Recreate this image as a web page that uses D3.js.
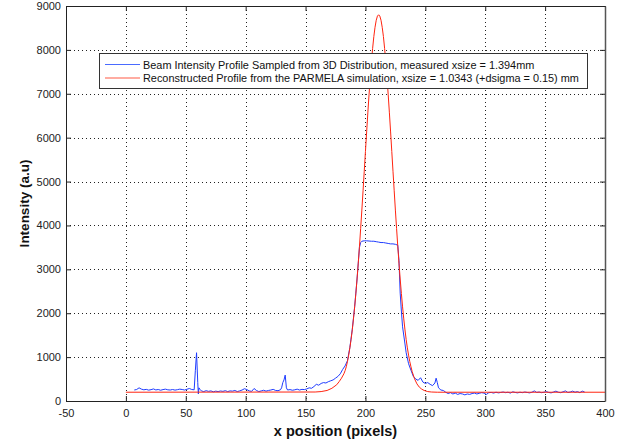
<!DOCTYPE html>
<html>
<head>
<meta charset="utf-8">
<script src="https://cdn.jsdelivr.net/npm/d3@7"></script>
<style>
  html, body { margin: 0; padding: 0; background: #fff; }
  svg { display: block; }
</style>
</head>
<body>
<script>
const width = 630;
const height = 445;
const margin = { top: 6, right: 25, bottom: 44, left: 66 };

const xTicks = [-50, 0, 50, 100, 150, 200, 250, 300, 350, 400];
const yTicks = [0, 1000, 2000, 3000, 4000, 5000, 6000, 7000, 8000, 9000];

const legendLabels = [
  "Beam Intensity Profile Sampled from 3D Distribution, measured xsize = 1.394mm",
  "Reconstructed Profile from the PARMELA simulation, xsize = 1.0343 (+dsigma = 0.15) mm",
];

// measured profile (blue)
const blueX = [7, 9, 11, 13, 15, 17, 19, 21, 23, 25, 27, 29, 31, 33, 35, 37, 39, 41, 43, 45,
  47, 49, 51, 53, 55, 57, 58, 59, 60, 60.5, 61, 62, 63, 65, 67, 69, 71, 73, 75, 77,
  79, 81, 83, 85, 87, 89, 91, 93, 95, 97, 99, 101, 103, 105, 107, 109, 111, 113, 115, 117,
  119, 121, 123, 125, 127, 129, 130, 131, 132, 133, 134, 135, 137, 139, 141, 143, 145, 147, 149, 151,
  153, 155, 157, 159, 161, 163, 165, 167, 169, 171, 173, 175, 177, 179, 181, 183, 185, 187, 189, 191,
  193, 195, 196, 197, 199, 201, 203, 205, 207, 209, 211, 213, 215, 217, 219, 221, 223, 225, 227, 228,
  229, 230, 231, 233, 234, 236, 238, 240, 242, 244, 246, 248, 250, 252, 254, 256, 258, 259, 260, 261,
  263, 265, 267, 269, 271, 273, 275, 277, 279, 281, 283, 285, 287, 289, 291, 293, 295, 297, 299, 301,
  303, 305, 307, 309, 311, 313, 315, 317, 319, 321, 323, 325, 327, 329, 331, 333, 335, 337, 339, 341,
  343, 345, 347, 349, 351, 353, 355, 357, 359, 361, 363, 365, 367, 369, 371, 373, 375, 377, 379, 381, 383];
const blueY = [250, 262, 300, 270, 255, 265, 248, 258, 275, 252, 262, 245, 260, 270, 255, 250, 262, 248, 258, 270,
  262, 250, 268, 285, 262, 255, 700, 1100, 420, 160, 300, 260, 230, 215, 235, 220, 230, 210, 225, 215,
  228, 220, 235, 215, 230, 225, 240, 215, 230, 250, 280, 260, 230, 220, 285, 240, 215, 230, 245, 225,
  240, 250, 265, 240, 235, 255, 300, 420, 480, 590, 300, 250, 260, 245, 255, 270, 250, 265, 260, 275,
  300, 290, 330, 380, 360, 400, 420, 410, 440, 460, 480, 520, 560, 620, 720, 800, 920, 1220, 1630, 2150,
  2780, 3500, 3610, 3640, 3650, 3650, 3645, 3640, 3640, 3630, 3620, 3610, 3610, 3600, 3590, 3580, 3580, 3570, 3550, 3200,
  2460, 2050, 1690, 1300, 1100, 850, 700, 560, 500, 470, 530, 430, 400, 420, 380, 350, 410, 520, 420, 300,
  250, 240, 200, 170, 190, 160, 180, 150, 170, 160, 140, 160, 150, 170, 180, 160, 175, 190, 180, 150,
  190, 195, 180, 200, 185, 195, 205, 190, 200, 180, 210, 195, 185, 200, 190, 205, 195, 185, 200, 230,
  195, 205, 190, 200, 215, 195, 185, 205, 225, 200, 190, 210, 230, 195, 205, 225, 200, 215, 190, 225, 205];

// reconstructed profile (red)
const redX = [0, 158, 163, 168, 172, 176, 178, 180, 182, 183, 184, 185, 186, 187, 188, 189, 190, 191, 192, 193,
  194, 195, 196, 197, 198, 199, 200, 201, 202, 203, 204, 205, 206, 207, 208, 209, 210, 211, 212, 213,
  214, 215, 216, 217, 218, 219, 220, 221, 222, 223, 224, 225, 226, 227, 228, 229, 230, 231, 232, 233,
  234, 235, 236, 237, 238, 239, 241, 243, 245, 247, 249, 252, 255, 260, 400];
const redY = [200, 205, 215, 240, 290, 370, 440, 520, 620, 690, 780, 900, 1045, 1210, 1400, 1620, 1870, 2145, 2450, 2780,
  3140, 3520, 3930, 4350, 4790, 5235, 5685, 6130, 6565, 6980, 7370, 7725, 8035, 8305, 8515, 8675, 8770, 8800, 8770, 8675,
  8515, 8305, 8035, 7725, 7370, 6980, 6565, 6130, 5685, 5235, 4790, 4350, 3930, 3520, 3140, 2780, 2450, 2145, 1870, 1620,
  1400, 1210, 1045, 900, 780, 670, 505, 390, 315, 270, 240, 215, 205, 200, 200];

const svg = d3.select("body").append("svg")
  .attr("width", width)
  .attr("height", height)
  .attr("viewBox", `0 0 ${width} ${height}`)
  .style("font-family", "Arial, 'Liberation Sans', Helvetica, sans-serif");

svg.append("rect").attr("width", width).attr("height", height).attr("fill", "#fff");

const x = d3.scaleLinear().domain([-50, 400]).range([margin.left, width - margin.right]);
const y = d3.scaleLinear().domain([0, 9000]).range([height - margin.bottom, margin.top]);

const x0 = x.range()[0], x1 = x.range()[1];
const y0 = y.range()[0], y1 = y.range()[1];

// grid
const grid = svg.append("g")
  .attr("stroke", "#222")
  .attr("stroke-width", 1)
  .attr("stroke-dasharray", "1,3")
  .attr("shape-rendering", "crispEdges");

grid.selectAll("line.vx")
  .data(xTicks.slice(1, -1))
  .join("line")
  .attr("x1", (d) => Math.round(x(d)) + 0.5)
  .attr("x2", (d) => Math.round(x(d)) + 0.5)
  .attr("y1", y1)
  .attr("y2", y0);

grid.selectAll("line.hy")
  .data(yTicks.slice(1, -1))
  .join("line")
  .attr("class", "hy")
  .attr("x1", x0)
  .attr("x2", x1)
  .attr("y1", (d) => Math.round(y(d)) + 0.5)
  .attr("y2", (d) => Math.round(y(d)) + 0.5);

// lines
const line = d3.line()
  .x((d) => x(d[0]))
  .y((d) => y(d[1]));

svg.append("path")
  .datum(blueX.map((v, i) => [v, blueY[i]]))
  .attr("fill", "none")
  .attr("stroke", "#1f3cff")
  .attr("stroke-width", 1)
  .attr("d", line);

svg.append("path")
  .datum(redX.map((v, i) => [v, redY[i]]))
  .attr("fill", "none")
  .attr("stroke", "#ff2410")
  .attr("stroke-width", 1)
  .attr("d", line);

// axes (MATLAB style: inward ticks on all sides)
const tickLen = 5;
const axisColor = "#222";

svg.append("g")
  .attr("transform", `translate(0,${y0})`)
  .call(d3.axisBottom(x).tickValues(xTicks).tickSizeInner(-tickLen).tickSizeOuter(0).tickPadding(8).tickFormat((d) => String(d)))
  .call((g) => g.select(".domain").attr("stroke", axisColor))
  .call((g) => g.selectAll(".tick line").attr("stroke", axisColor))
  .call((g) => g.selectAll("text").attr("font-size", 11).attr("fill", "#222").attr("font-family", null));

svg.append("g")
  .attr("transform", `translate(${x0},0)`)
  .call(d3.axisLeft(y).tickValues(yTicks).tickSizeInner(-tickLen).tickSizeOuter(0).tickPadding(5).tickFormat((d) => String(d)))
  .call((g) => g.select(".domain").attr("stroke", axisColor))
  .call((g) => g.selectAll(".tick line").attr("stroke", axisColor))
  .call((g) => g.selectAll("text").attr("font-size", 11).attr("fill", "#222").attr("font-family", null));

svg.append("g")
  .attr("transform", `translate(0,${y1})`)
  .call(d3.axisTop(x).tickValues(xTicks).tickSizeInner(-tickLen).tickSizeOuter(0).tickFormat(""))
  .call((g) => g.select(".domain").attr("stroke", axisColor))
  .call((g) => g.selectAll(".tick line").attr("stroke", axisColor));

svg.append("g")
  .attr("transform", `translate(${x1},0)`)
  .call(d3.axisRight(y).tickValues(yTicks).tickSizeInner(-tickLen).tickSizeOuter(0).tickFormat(""))
  .call((g) => g.select(".domain").attr("stroke", "#555").attr("stroke-width", 1.5))
  .call((g) => g.selectAll(".tick line").attr("stroke", axisColor));

// axis titles
svg.append("text")
  .attr("x", (x0 + x1) / 2)
  .attr("y", 436)
  .attr("text-anchor", "middle")
  .attr("font-size", 14.5)
  .attr("font-weight", "bold")
  .attr("fill", "#111")
  .text("x position (pixels)");

svg.append("text")
  .attr("transform", `translate(29,${(y0 + y1) / 2}) rotate(-90)`)
  .attr("text-anchor", "middle")
  .attr("font-size", 13.5)
  .attr("font-weight", "bold")
  .attr("fill", "#111")
  .text("Intensity (a.u)");

// legend
const legend = svg.append("g");
legend.append("rect")
  .attr("x", 99.5)
  .attr("y", 53.5)
  .attr("width", 488)
  .attr("height", 35)
  .attr("fill", "#fff")
  .attr("stroke", "#333")
  .attr("stroke-width", 1);

const legendColors = ["#4a6bff", "#ff5a45"];
legendLabels.forEach((label, i) => {
  const ly = 64.5 + i * 13.5;
  legend.append("line")
    .attr("x1", 105).attr("x2", 140)
    .attr("y1", ly).attr("y2", ly)
    .attr("stroke", legendColors[i])
    .attr("stroke-width", 1.2);
  legend.append("text")
    .attr("x", 143)
    .attr("y", ly + 4)
    .attr("font-size", 10.9)
    .attr("fill", "#111")
    .text(label);
});
</script>
</body>
</html>
